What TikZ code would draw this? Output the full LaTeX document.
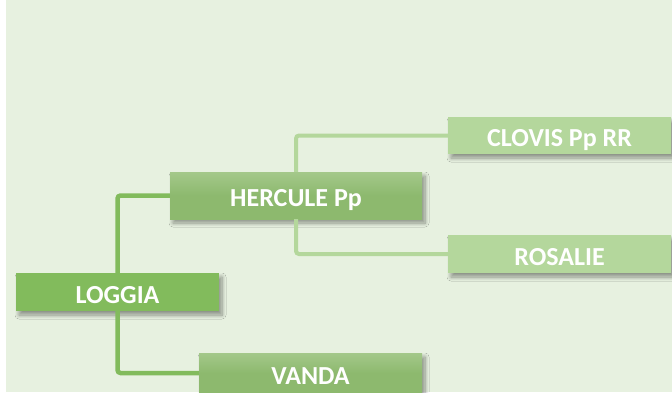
\documentclass[tikz,border=0pt]{standalone}
\usepackage{fontspec}
\setmainfont{Carlito}
\usepackage{tikz}
\usetikzlibrary{positioning,shadows.blur}
\definecolor{bgc}{HTML}{E7F1E0}
\definecolor{topc}{HTML}{82BB5C}
\definecolor{midc}{HTML}{8DB96E}
\definecolor{lowc}{HTML}{B4D79C}

\begin{document}
\begin{tikzpicture}[x=1pt,y=-1pt,
    box/.style={minimum height=38pt,inner sep=0pt,text=white,
      font=\fontsize{26}{30}\selectfont\bfseries,text height=22pt,text depth=0pt,
      blur shadow={shadow xshift=3pt,shadow yshift=-4pt,shadow blur steps=8,shadow blur radius=4pt,shadow opacity=40}},
    lvlone/.style={box,fill=topc,minimum width=203pt},
    lvltwo/.style={box,top color=midc!75!white!85!topc,bottom color=midc,middle color=midc,minimum width=252pt,minimum height=47pt},
    lvlthree/.style={box,fill=lowc,minimum width=223pt},
    linkdark/.style={draw=topc,line width=4.5pt,rounded corners=3pt},
    linklight/.style={draw=lowc,line width=4pt,rounded corners=3pt}]
  \useasboundingbox (0,0) rectangle (672,392);
  \fill[bgc] (6,0) rectangle (672,392);
  % root and children
  \node[lvlone] (loggia) at (117.5,292) {LOGGIA};
  \node[lvltwo] (hercule) at (296,195.5) {HERCULE Pp};
  \node[lvltwo,minimum width=223pt,minimum height=40pt] (vanda) at (310.5,373) {VANDA};
  \node[lvlthree,minimum height=37pt] (clovis) at (559.5,135.5) {CLOVIS Pp RR};
  \node[lvlthree] (rosalie) at (559.5,254) {ROSALIE};
  % connectors
  \draw[linkdark] (loggia.north) |- (hercule.west);
  \draw[linkdark] (loggia.south) |- (vanda.west);
  \draw[linklight] (hercule.north) |- (clovis.west);
  \draw[linklight] (hercule.south) |- (rosalie.west);
\end{tikzpicture}
\end{document}
